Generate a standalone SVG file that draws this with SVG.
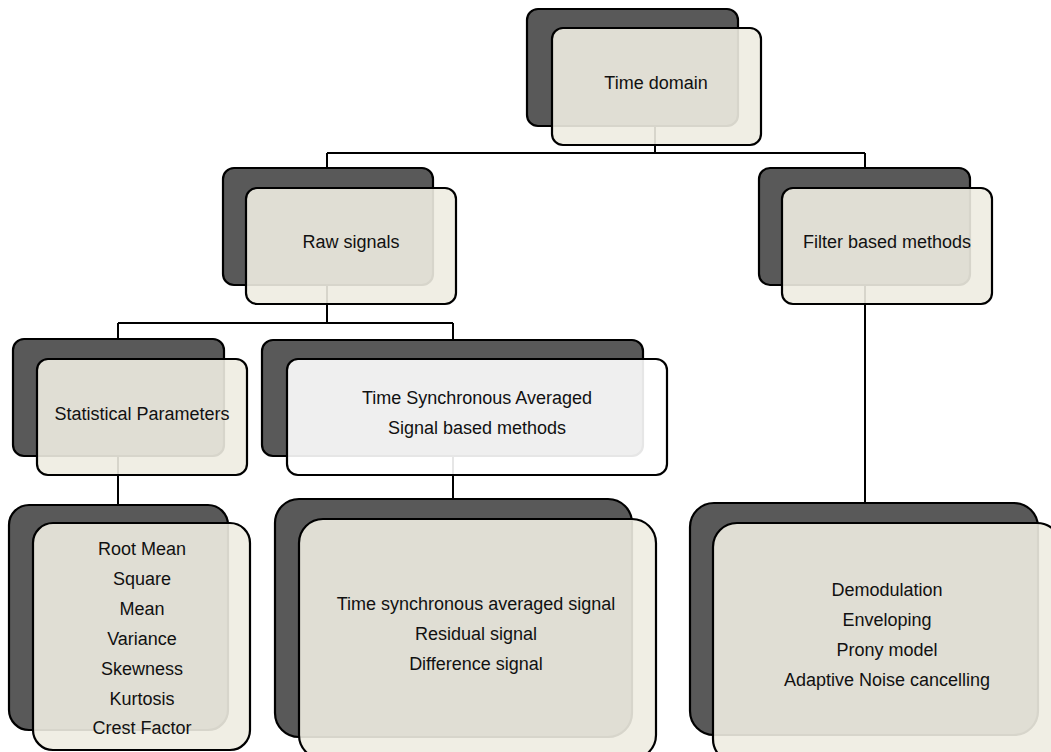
<svg xmlns="http://www.w3.org/2000/svg" width="1051" height="752" viewBox="0 0 1051 752">
  <style>
    .back { fill: #595959; stroke: #000; stroke-width: 2.2; }
    .front { fill: #EEECE1; fill-opacity: 0.9; stroke: #000; stroke-width: 2.2; }
    .front-w { fill: #FFFFFF; fill-opacity: 0.9; stroke: #000; stroke-width: 2.2; }
    .lbl { font-family: "Liberation Sans", Arial, sans-serif; font-size: 18px; fill: #111; text-anchor: middle; }
    .conn { fill: none; stroke: #000; stroke-width: 2; }
  </style>
  <rect width="1051" height="752" fill="#fff"/>

  <!-- connectors, drawn beneath the nodes -->
  <g id="connectors">
    <path class="conn" d="M655,126 V153 M327,153 H865 M327,153 V168 M865,153 V168"/>
    <path class="conn" d="M327,285 V323 M118,323 H453 M118,323 V339 M453,323 V340"/>
    <path class="conn" d="M118,456 V505"/>
    <path class="conn" d="M453,456 V499"/>
    <path class="conn" d="M865,285 V503"/>
  </g>

  <g id="time-domain">
    <rect class="back" x="527" y="9" width="211" height="117" rx="11"/>
    <rect class="front" x="552" y="28" width="209" height="117" rx="11"/>
    <text class="lbl" x="656" y="89">Time domain</text>
  </g>

  <g id="raw-signals">
    <rect class="back" x="223" y="168" width="210" height="117" rx="11"/>
    <rect class="front" x="246" y="188" width="210" height="116" rx="11"/>
    <text class="lbl" x="351" y="248">Raw signals</text>
  </g>

  <g id="filter-based">
    <rect class="back" x="759" y="168" width="211" height="117" rx="11"/>
    <rect class="front" x="782" y="188" width="210" height="116" rx="11"/>
    <text class="lbl" x="887" y="248">Filter based methods</text>
  </g>

  <g id="statistical">
    <rect class="back" x="13" y="339" width="211" height="117" rx="11"/>
    <rect class="front" x="37" y="359" width="210" height="116" rx="11"/>
    <text class="lbl" x="142" y="420">Statistical Parameters</text>
  </g>

  <g id="tsa">
    <rect class="back" x="262" y="340" width="381" height="116" rx="11"/>
    <rect class="front-w" x="287" y="359" width="380" height="116" rx="11"/>
    <text class="lbl" x="477" y="404">Time Synchronous Averaged</text>
    <text class="lbl" x="477" y="434">Signal based methods</text>
  </g>

  <g id="stat-list">
    <rect class="back" x="9" y="505" width="219" height="225" rx="20"/>
    <rect class="front" x="33" y="523" width="217" height="227" rx="20"/>
    <text class="lbl" x="142" y="555">Root Mean</text>
    <text class="lbl" x="142" y="585">Square</text>
    <text class="lbl" x="142" y="615">Mean</text>
    <text class="lbl" x="142" y="645">Variance</text>
    <text class="lbl" x="142" y="675">Skewness</text>
    <text class="lbl" x="142" y="705">Kurtosis</text>
    <text class="lbl" x="142" y="734">Crest Factor</text>
  </g>

  <g id="tsa-list">
    <rect class="back" x="275" y="499" width="357" height="238" rx="24"/>
    <rect class="front" x="299" y="519" width="357" height="240" rx="24"/>
    <text class="lbl" x="476" y="610">Time synchronous averaged signal</text>
    <text class="lbl" x="476" y="640">Residual signal</text>
    <text class="lbl" x="476" y="670">Difference signal</text>
  </g>

  <g id="filter-list">
    <rect class="back" x="690" y="503" width="348" height="232" rx="24"/>
    <rect class="front" x="713" y="523" width="348" height="240" rx="24"/>
    <text class="lbl" x="887" y="596">Demodulation</text>
    <text class="lbl" x="887" y="626">Enveloping</text>
    <text class="lbl" x="887" y="656">Prony model</text>
    <text class="lbl" x="887" y="686">Adaptive Noise cancelling</text>
  </g>
</svg>
